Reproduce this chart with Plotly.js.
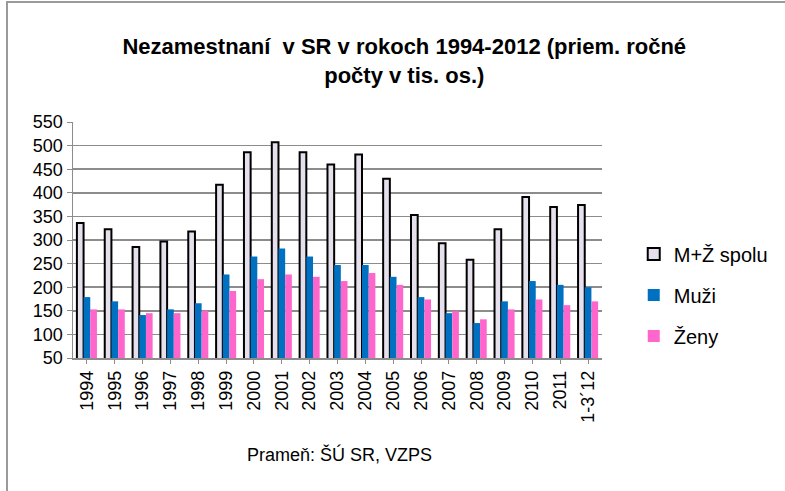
<!DOCTYPE html>
<html><head><meta charset="utf-8">
<script src="https://cdn.plot.ly/plotly-3.0.1.min.js"></script>
<style>
html,body{margin:0;padding:0;background:#fff;}
#wrap{position:absolute;left:6px;top:1px;width:779px;height:490px;border-left:2px solid #9a9a9a;border-top:2px solid #9a9a9a;box-sizing:border-box;}
#chart{position:absolute;left:0;top:0;width:785px;height:491px;}
</style></head>
<body>
<div id="chart"></div>
<div id="wrap"></div>
<script>
const categories = ["1994","1995","1996","1997","1998","1999","2000","2001","2002","2003","2004","2005","2006","2007","2008","2009","2010","2011","1-3´12"];
const spolu = [336,323,285,297,318,417,486,507,486,460,481,430,353,293,258,323,391,370,374];
const muzi  = [179,170,141,153,166,227,265,282,265,247,247,222,179,145,124,170,213,205,200];
const zeny  = [153,153,145,145,150,192,217,227,222,213,230,205,174,149,132,153,174,162,170];

const font = "Liberation Sans, Arial, sans-serif";
const traces = [
  {type:'bar', name:'M+Ž spolu', x:categories, y:spolu, legendgroup:'a',
   marker:{color:'#e6e0ec', line:{color:'#000', width:2}}},
  {type:'bar', name:'Muži', x:categories, y:muzi, legendgroup:'b',
   marker:{color:'#0070c0', line:{width:0}}},
  {type:'bar', name:'Ženy', x:categories, y:zeny, legendgroup:'c',
   marker:{color:'#ff66cc', line:{width:0}}}
];
const layout = {
  width:785, height:491,
  margin:{l:73, r:177, t:122, b:133},
  paper_bgcolor:'rgba(0,0,0,0)', plot_bgcolor:'#fff',
  font:{family:font, color:'#000', size:18},
  title:{text:'<b>Nezamestnaní  v SR v rokoch 1994-2012 (priem. ročné<br>počty v tis. os.)</b>',
    x:0.515, xanchor:'center', y:0.89, yanchor:'top', font:{family:font, size:22, color:'#000'}},
  barmode:'group', bargap:0.28, bargroupgap:0,
  xaxis:{type:'category', tickangle:-90, showline:true, linecolor:'#8c8c8c', linewidth:1.5,
    ticks:'outside', ticklen:4, tickcolor:'#8c8c8c', tickfont:{size:18, family:font},
    showgrid:false, fixedrange:true},
  yaxis:{range:[50,550], dtick:50, tick0:50, showline:true, linecolor:'#8c8c8c', linewidth:1.5,
    ticks:'outside', ticklen:5, tickcolor:'#8c8c8c', showgrid:true, gridcolor:'#8c8c8c', gridwidth:1.5,
    tickfont:{size:18, family:font}, zeroline:false, fixedrange:true},
  legend:{x:1.06, xanchor:'left', y:0.267, yanchor:'middle', font:{size:20, family:font},
    traceorder:'grouped', tracegroupgap:12, bgcolor:'rgba(0,0,0,0)', itemwidth:30},
  annotations:[{text:'Prameň: ŠÚ SR, VZPS', xref:'paper', yref:'paper', x:0.503, y:-0.41,
    xanchor:'center', yanchor:'middle', showarrow:false, font:{size:18, family:font}}]
};
Plotly.newPlot('chart', traces, layout, {staticPlot:true, displayModeBar:false});
</script>
</body></html>
